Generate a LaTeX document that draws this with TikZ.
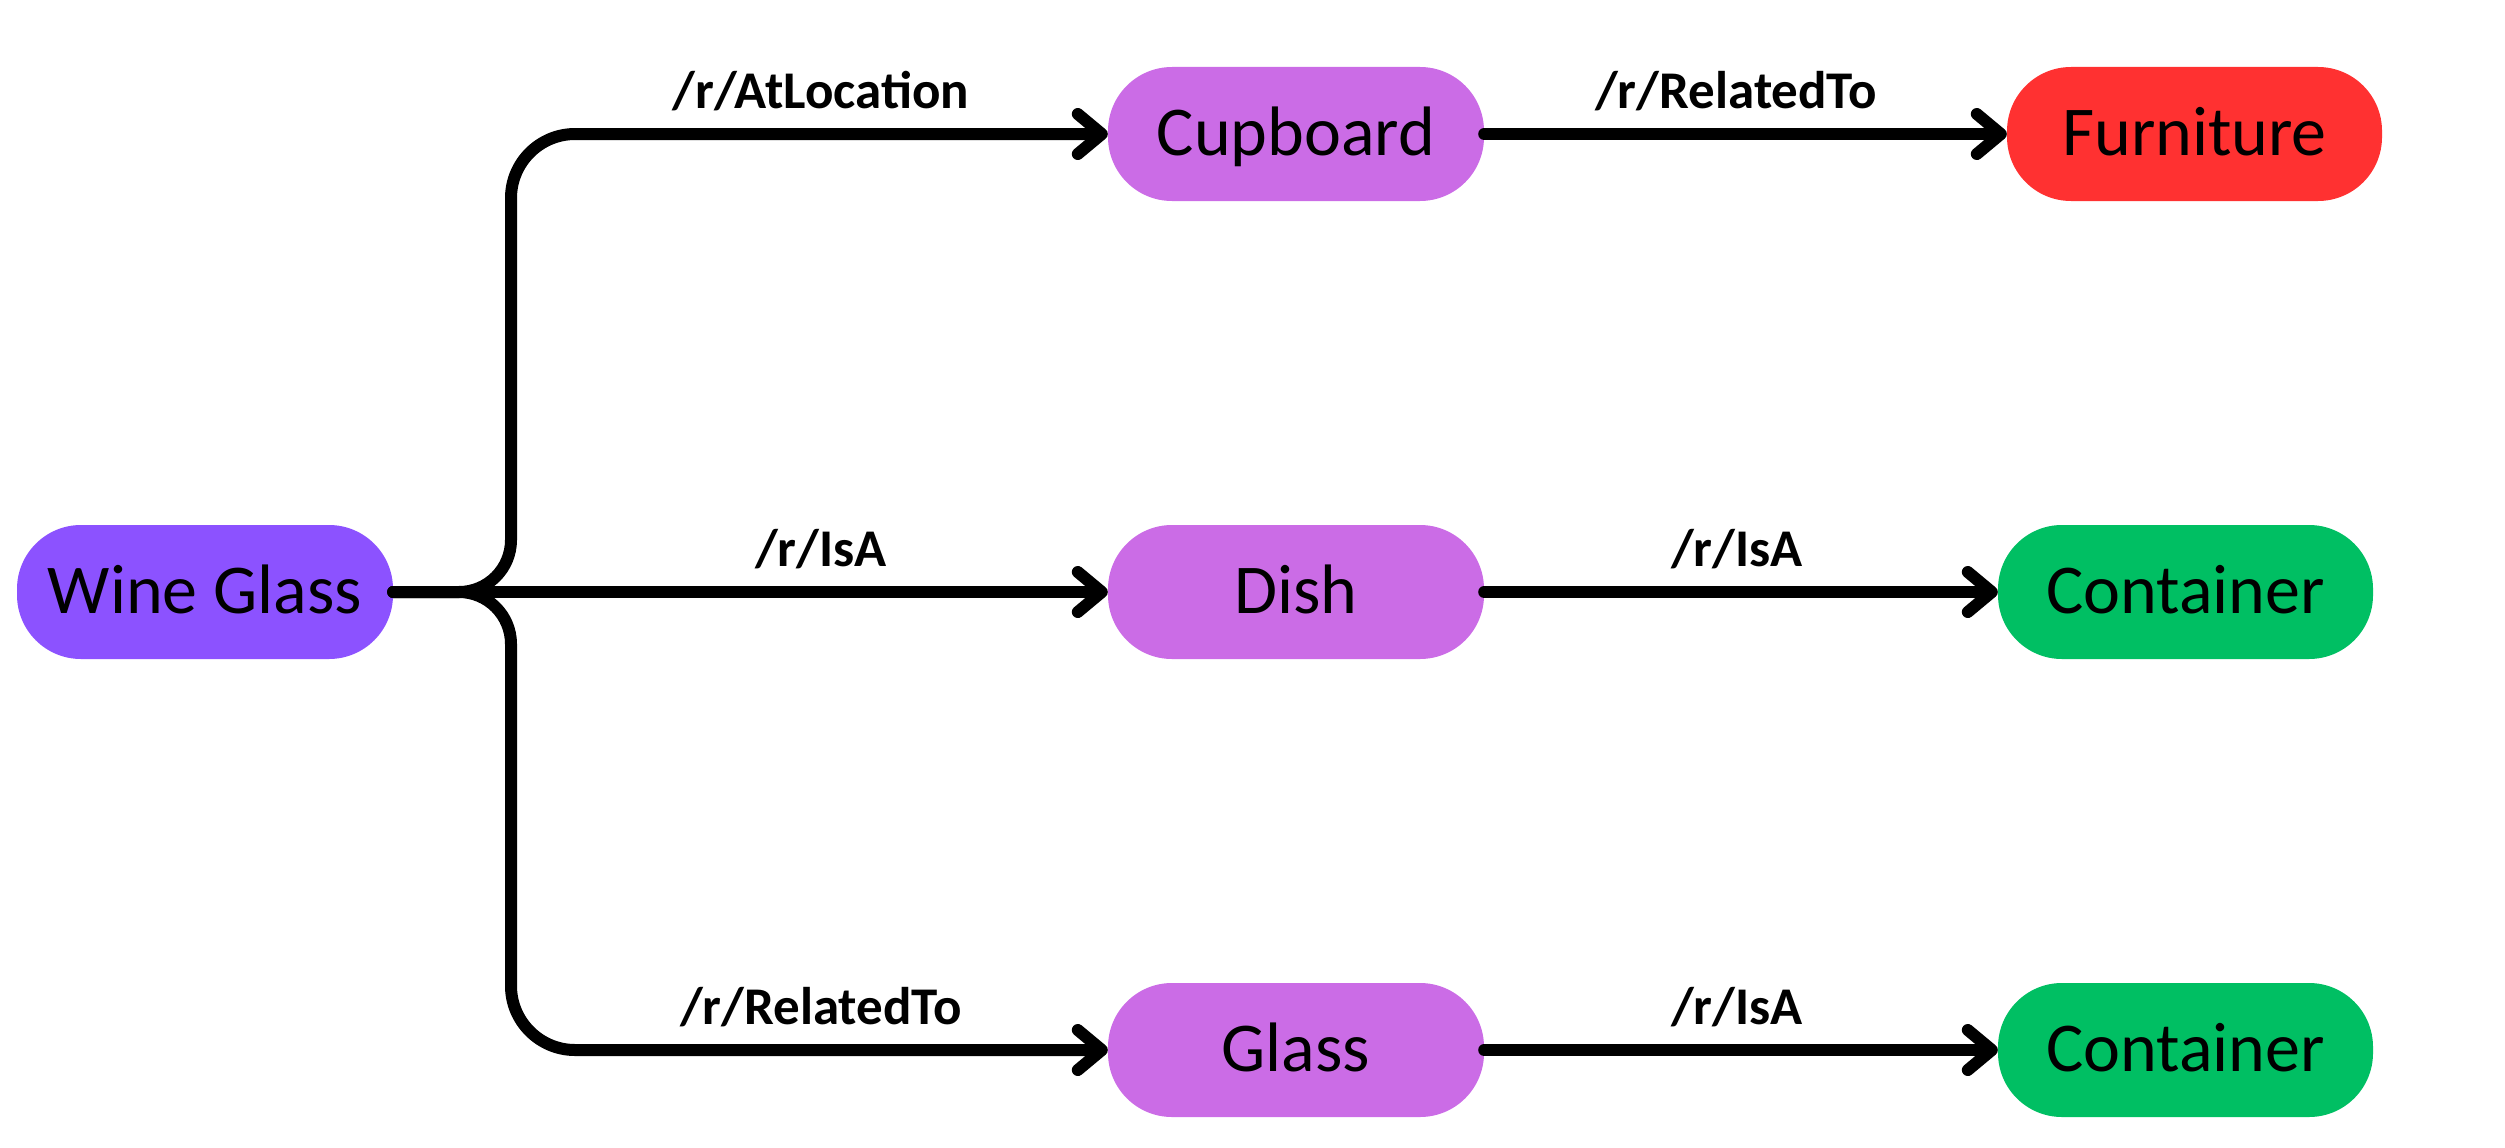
\documentclass[tikz,border=0pt]{standalone}
\usepackage{fontspec}
\setmainfont{Carlito}
\usetikzlibrary{arrows.meta}
\definecolor{cpurple}{HTML}{8C52FF}
\definecolor{cpink}{HTML}{CB6CE6}
\definecolor{cred}{HTML}{FF3131}
\definecolor{cgreen}{HTML}{00BF63}
\tikzset{
  pill/.style={rectangle, rounded corners=64pt, minimum width=376pt, minimum height=134pt,
    inner sep=0pt, text height=43pt, text depth=0pt, font=\fontsize{70}{84}\selectfont, text=black},
  rel/.style={anchor=base, inner sep=0pt, font=\bfseries\fontsize{53}{62}\selectfont},
  conn/.style={line width=12pt, line cap=round, line join=round},
  arr/.style={conn, -{Straight Barb[length=24pt, width=40pt, round]}},
}
\begin{document}
\begin{tikzpicture}[x=1pt, y=-1pt]
\useasboundingbox (0,0) rectangle (2505,1148);
% nodes
\node[pill, fill=cpurple] (wg) at (205,592) {Wine Glass};
\node[pill, fill=cpink] (cup) at (1296,134) {Cupboard};
\node[pill, fill=cpink] (dish) at (1296,592) {Dish};
\node[pill, fill=cpink] (glass) at (1296,1050) {Glass};
\node[pill, fill=cred, minimum width=375pt] (furn) at (2194.5,134) {Furniture};
\node[pill, fill=cgreen, minimum width=375pt] (cont1) at (2185.5,592) {Container};
\node[pill, fill=cgreen, minimum width=375pt] (cont2) at (2185.5,1050) {Container};
% connectors
\draw[arr] (wg.east) -- (dish.west);
\draw[arr] (wg.east) -- (459,592) .. controls (487.7,592) and (511,568.7) .. (511,540)
  -- (511,198) .. controls (511,162.7) and (539.7,134) .. (575,134) -- (cup.west);
\draw[arr] (wg.east) -- (459,592) .. controls (487.7,592) and (511,615.3) .. (511,644)
  -- (511,986) .. controls (511,1021.3) and (539.7,1050) .. (575,1050) -- (glass.west);
\draw[arr] (cup.east) -- (furn.west);
\draw[arr] (dish.east) -- (cont1.west);
\draw[arr] (glass.east) -- (cont2.west);
% labels
\node[rel] (l1) at (821,108) {/r/AtLocation};
\node[rel] (l2) at (821,566) {/r/IsA};
\node[rel] (l3) at (821,1024) {/r/RelatedTo};
\node[rel] (l4) at (1736,108) {/r/RelatedTo};
\node[rel] (l5) at (1737,566) {/r/IsA};
\node[rel] (l6) at (1737,1024) {/r/IsA};
\end{tikzpicture}
\end{document}
